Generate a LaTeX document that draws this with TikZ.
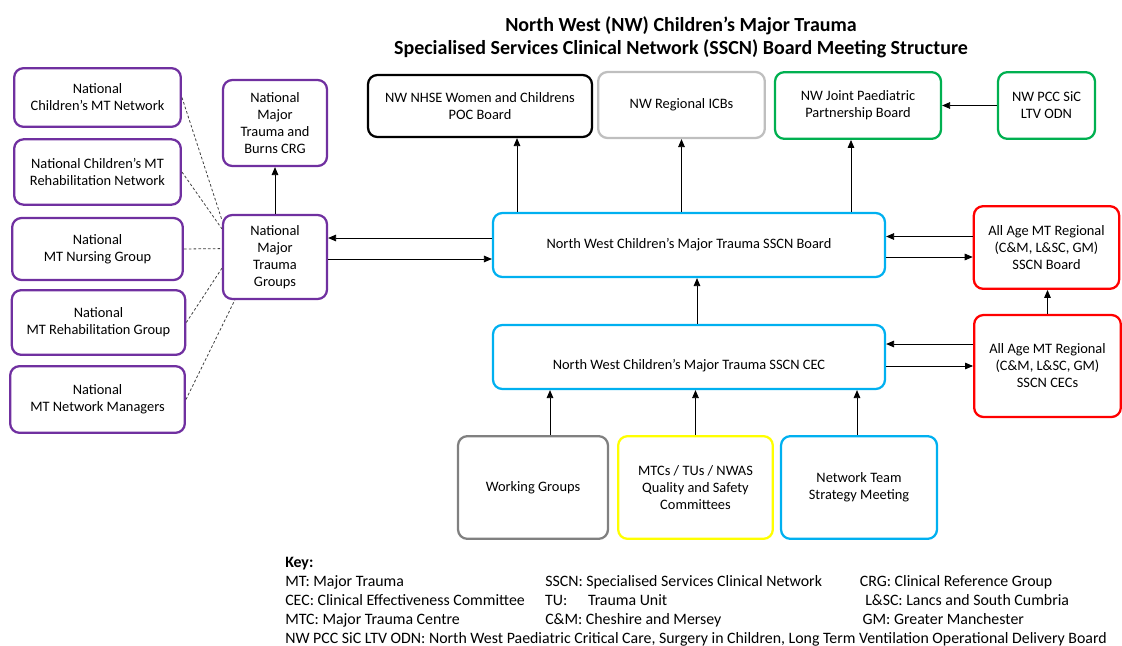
\documentclass[tikz,border=0pt]{standalone}
\usepackage{fontspec}
\setmainfont{Carlito}
\usepackage{tikz}
\usetikzlibrary{positioning}
\usetikzlibrary{arrows.meta}
\usepackage{xcolor}

\definecolor{natpurple}{RGB}{112,48,160}
\definecolor{sscnblue}{RGB}{0,176,240}
\definecolor{regred}{RGB}{255,0,0}
\definecolor{jpgreen}{RGB}{0,176,80}
\definecolor{qsyellow}{RGB}{255,255,0}
\definecolor{icbgrey}{RGB}{191,191,191}
\definecolor{wggrey}{RGB}{128,128,128}

\begin{document}
\begin{tikzpicture}[
  x=0.75pt, y=-0.75pt,
  box/.style={draw, rounded corners=7pt, line width=1.7pt, align=center, inner sep=2pt, font=\fontsize{10.8}{12.75}\selectfont},
  natbox/.style={box, draw=natpurple},
  sscnbox/.style={box, draw=sscnblue},
  regbox/.style={box, draw=regred},
  jpbox/.style={box, draw=jpgreen},
  arrow/.style={-{Triangle[length=6pt,width=5pt]}, line width=0.6pt},
  dottedlink/.style={line width=0.6pt, draw=black!75, dash pattern=on 2pt off 1.6pt}
]
\useasboundingbox (0,0) rectangle (1122,646);

\node[font=\fontsize{15}{17.4}\selectfont\bfseries, align=center] (title) at (681,37)
  {North West (NW) Children’s Major Trauma\\Specialised Services Clinical Network (SSCN) Board Meeting Structure};

% national groups
\node[natbox, minimum width=125pt, minimum height=44pt] (natcmt) at (97.5,97.5) {National\\Children’s MT Network};
\node[natbox, minimum width=125pt, minimum height=49pt] (natrehabnet) at (97.5,172) {National Children’s MT\\Rehabilitation Network};
\node[natbox, minimum width=128pt, minimum height=46.5pt] (natnursing) at (97.5,249) {National\\MT Nursing Group};
\node[natbox, minimum width=130pt, minimum height=48.5pt] (natrehabgrp) at (98.5,322.5) {National\\MT Rehabilitation Group};
\node[natbox, minimum width=131pt, minimum height=50pt] (natmanagers) at (97.5,399.5) {National\\MT Network Managers};

\node[natbox, minimum width=78pt, minimum height=64.5pt] (crg) at (275,123) {National\\Major\\Trauma and\\Burns CRG};
\node[natbox, minimum width=78pt, minimum height=63pt] (nmtg) at (275,257) {National\\Major\\Trauma\\Groups};

% top row
\node[box, draw=black, minimum width=168pt, minimum height=46.5pt] (poc) at (480,106) {NW NHSE Women and Childrens\\POC Board};
\node[box, draw=icbgrey, minimum width=125pt, minimum height=49.5pt] (icbs) at (681.5,105) {NW Regional ICBs};
\node[jpbox, minimum width=124.5pt, minimum height=50pt] (jppb) at (858,105.5) {NW Joint Paediatric\\Partnership Board};
\node[jpbox, minimum width=72.75pt, minimum height=50pt] (pcc) at (1046.5,105.5) {NW PCC SiC\\LTV ODN};

% SSCN board and CEC
\node[sscnbox, minimum width=294pt, minimum height=48pt] (board) at (689,245) {North West Children’s Major Trauma SSCN Board};
\node[sscnbox, minimum width=294pt, minimum height=48pt, text height=21pt] (cec) at (689,357) {North West Children’s Major Trauma SSCN CEC};

\node[regbox, minimum width=109pt, minimum height=62pt] (aaboard) at (1046.5,247.5) {All Age MT Regional\\(C\&M, L\&SC, GM)\\SSCN Board};
\node[regbox, minimum width=110pt, minimum height=76.5pt] (aacec) at (1047.5,366) {All Age MT Regional\\(C\&M, L\&SC, GM)\\SSCN CECs};

% bottom row
\node[box, draw=wggrey, minimum width=112.5pt, minimum height=77pt] (wg) at (533,487.5) {Working Groups};
\node[box, draw=qsyellow, minimum width=116pt, minimum height=77pt] (mtcs) at (695.5,487.5) {MTCs / TUs / NWAS\\Quality and Safety\\Committees};
\node[sscnbox, minimum width=117pt, minimum height=77pt] (ntsm) at (859,487.5) {Network Team\\Strategy Meeting};

\draw[dottedlink] (natcmt.east) -- (nmtg.145);
\draw[dottedlink] (natrehabnet.east) -- (nmtg.152);
\draw[dottedlink] (natnursing.east) -- (nmtg.171);
\draw[dottedlink] (natrehabgrp.east) -- (nmtg.192);
\draw[dottedlink] (natmanagers.east) -- (nmtg.227);

\draw[arrow] (nmtg.north) -- (crg.south);
\draw[arrow] ([shift={(0,-7)}]board.west) -- ([shift={(0,-7)}]board.west -| nmtg.east);
\draw[arrow] ([shift={(0,2)}]nmtg.east) -- ([shift={(0,2)}]nmtg.east -| board.west);

\draw[arrow] ([shift={(-172,0)}]board.north) -- ([shift={(-172,0)}]board.north |- poc.south);
\draw[arrow] (board.north -| icbs.south) -- (icbs.south);
\draw[arrow] ([shift={(-7,0)}]board.north -| jppb.south) -- ([shift={(-7,0)}]jppb.south);
\draw[arrow] (pcc.west) -- (jppb.west -| jppb.east);

\draw[arrow] ([shift={(0,-11)}]aaboard.west) -- ([shift={(0,-11)}]aaboard.west -| board.east);
\draw[arrow] ([shift={(0,12)}]board.east) -- ([shift={(0,12)}]board.east -| aaboard.west);
\draw[arrow] ([shift={(8,0)}]cec.north) -- ([shift={(8,0)}]board.south);
\draw[arrow] (aacec.north) -- (aacec.north |- aaboard.south);
\draw[arrow] ([shift={(0,-13)}]cec.east -| aacec.west) -- ([shift={(0,-13)}]cec.east);
\draw[arrow] ([shift={(0,9)}]cec.east) -- ([shift={(0,9)}]cec.east -| aacec.west);

\draw[arrow] ([shift={(17,0)}]wg.north) -- ([shift={(17,0)}]wg.north |- cec.south);
\draw[arrow] (mtcs.north) -- (mtcs.north |- cec.south);
\draw[arrow] ([shift={(-2,0)}]ntsm.north) -- ([shift={(-2,0)}]ntsm.north |- cec.south);

% key
\node[anchor=north west, inner sep=0pt, font=\fontsize{11.9}{14.2}\selectfont] (key) at (285,554) {%
\begin{tabular}{@{}p{195pt}@{}p{236pt}@{}l@{}}
\textbf{Key:} & & \\
MT: Major Trauma & SSCN: Specialised Services Clinical Network & CRG: Clinical Reference Group\\
CEC: Clinical Effectiveness Committee & TU:\hspace{1.3em}Trauma Unit & \hspace{4pt}L\&SC: Lancs and South Cumbria\\
MTC: Major Trauma Centre & C\&M: Cheshire and Mersey & \hspace{2pt}GM: Greater Manchester\\
\multicolumn{3}{@{}l@{}}{NW PCC SiC LTV ODN: North West Paediatric Critical Care, Surgery in Children, Long Term Ventilation Operational Delivery Board}
\end{tabular}};

\end{tikzpicture}
\end{document}
